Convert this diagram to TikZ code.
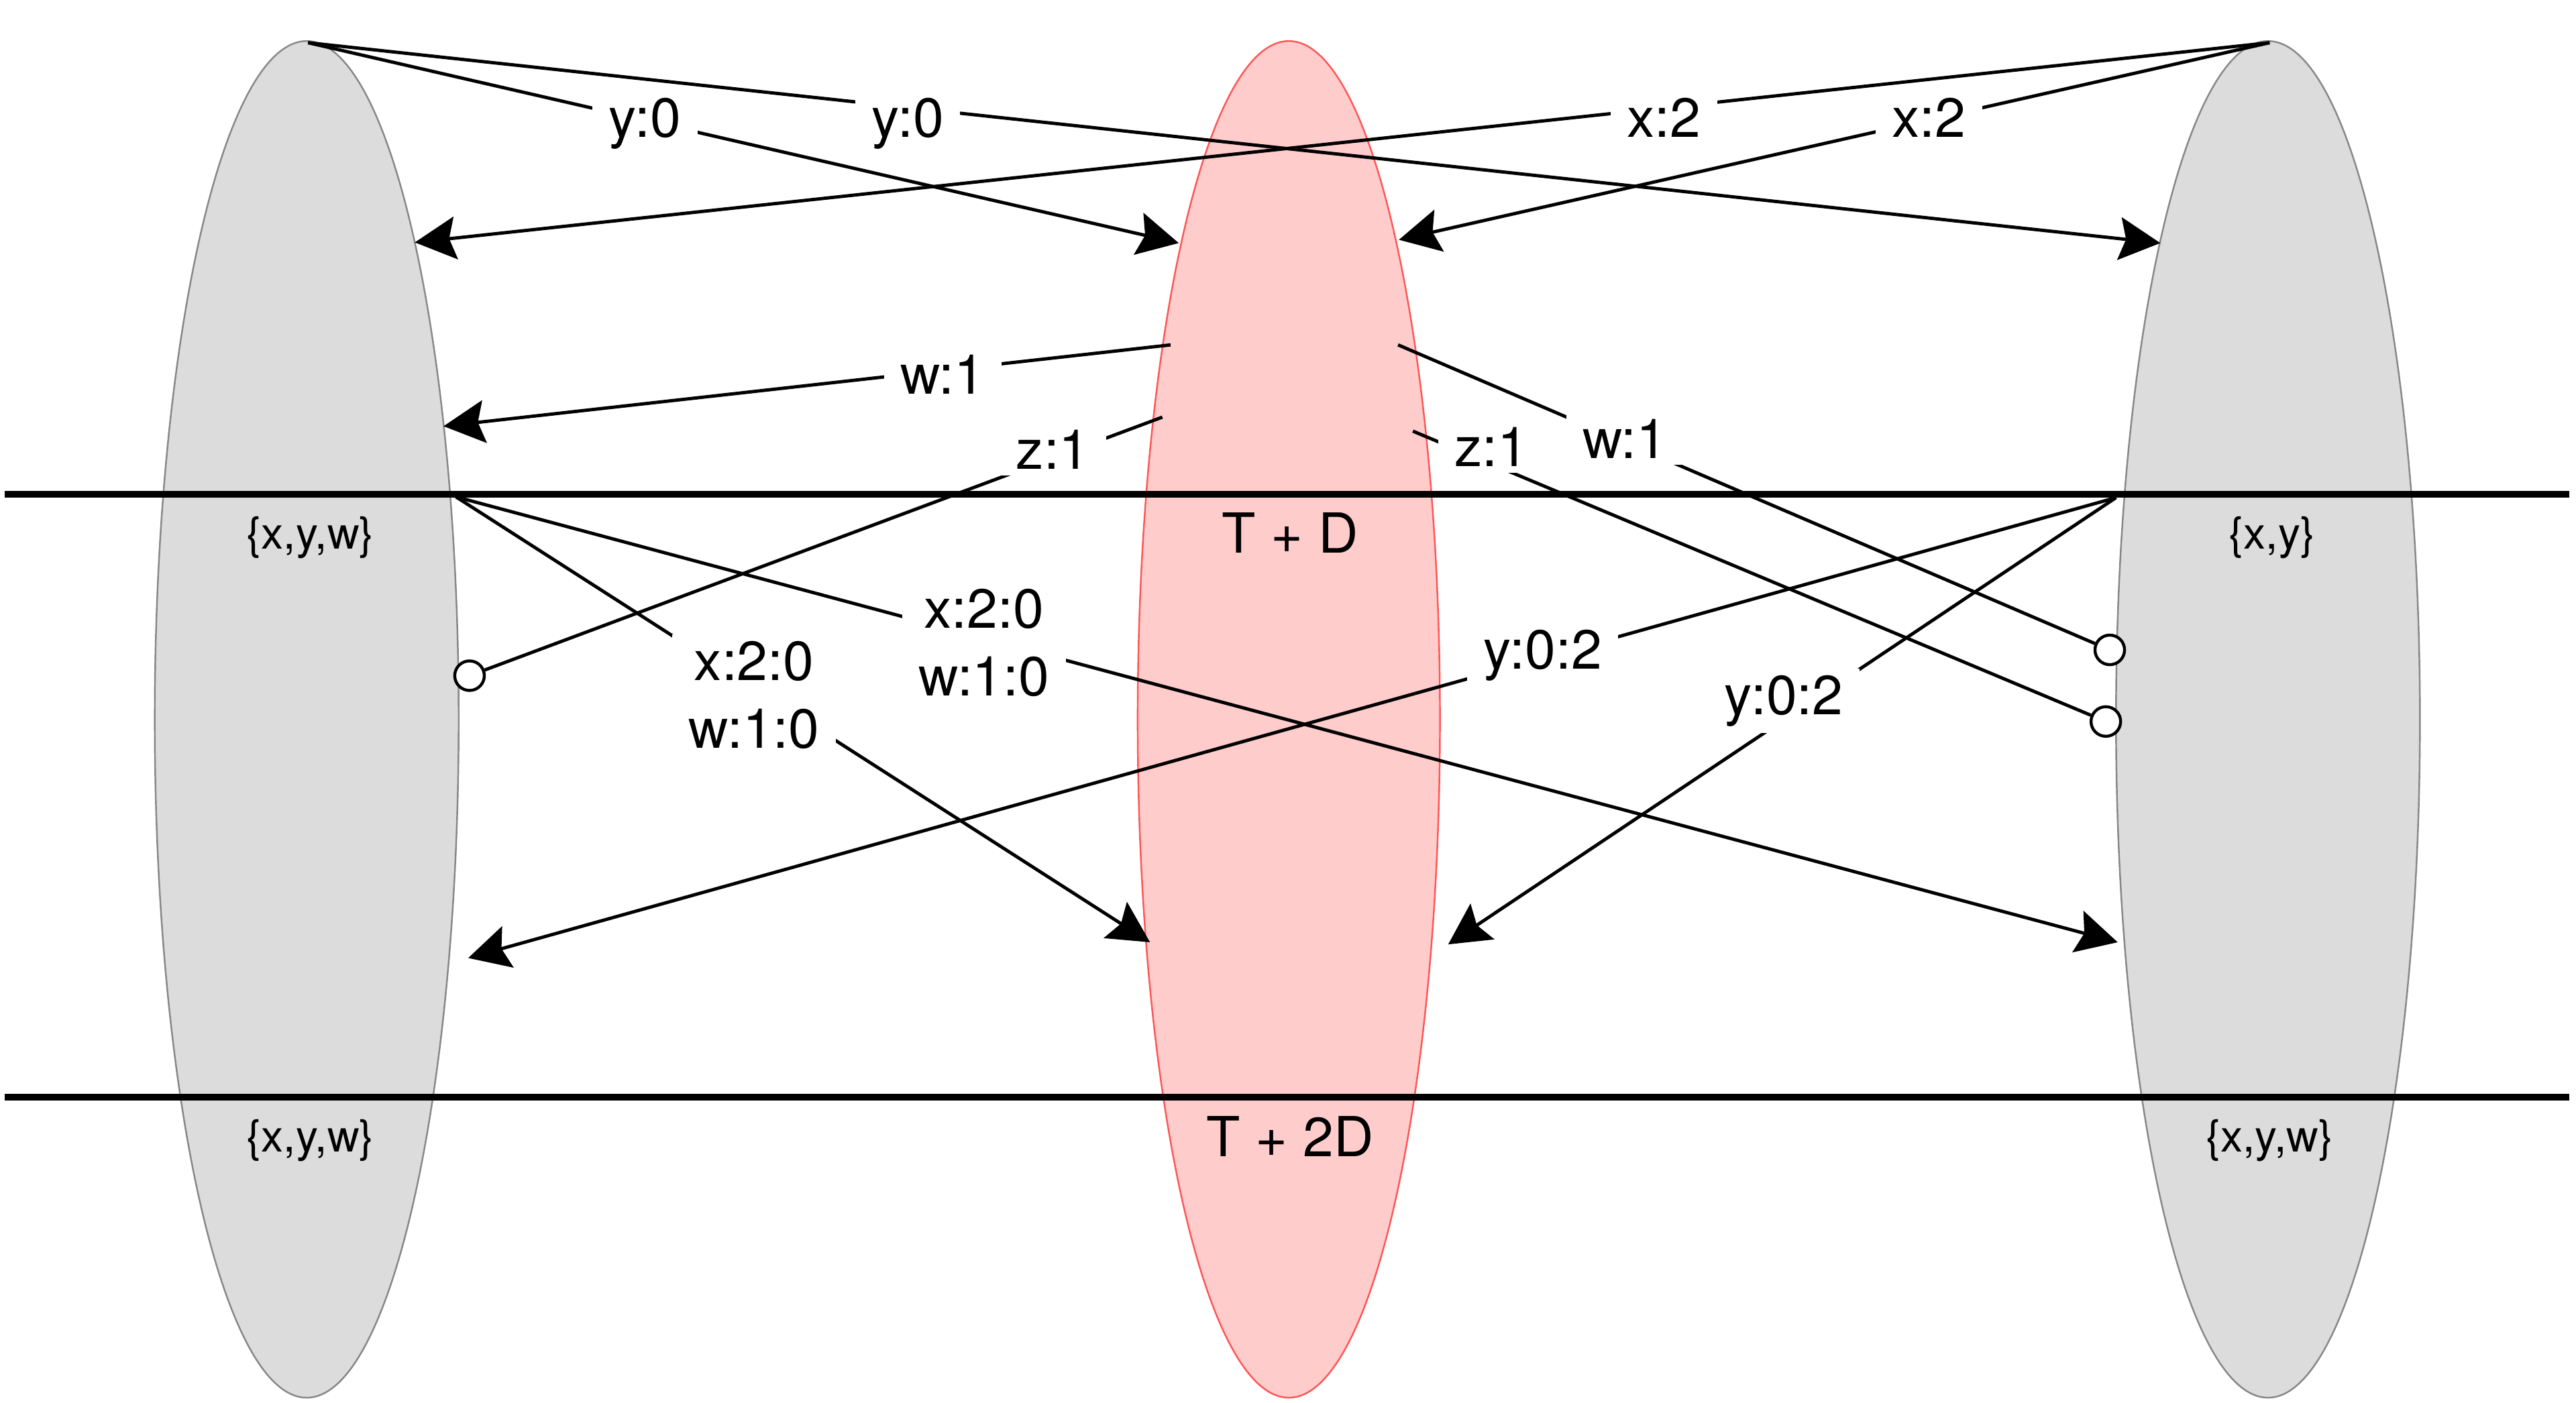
\documentclass[tikz,border=0pt]{standalone}
\usepackage{fontspec}
\setmainfont{TeX Gyre Heros}
\usetikzlibrary{shapes.geometric,arrows.meta}
\definecolor{grayfill}{RGB}{220,220,220}
\definecolor{graydraw}{RGB}{135,135,135}
\definecolor{redfill}{RGB}{255,204,204}
\definecolor{reddraw}{RGB}{255,85,85}
\begin{document}
\begin{tikzpicture}[x=0.5pt,y=-0.5pt,
  grayell/.style={ellipse, draw=graydraw, fill=grayfill, line width=0.5pt, minimum width=92.5pt, minimum height=413pt, inner sep=0pt},
  redell/.style={ellipse, draw=reddraw, fill=redfill, line width=0.5pt, minimum width=92pt, minimum height=413pt, inner sep=0pt},
  level/.style={line width=2pt},
  edge/.style={line width=1pt},
  arr/.style={edge, -{Stealth[length=12.5pt,width=13pt,inset=2pt]}},
  endcirc/.style={circle, draw, fill=white, line width=0.9pt, minimum size=9pt, inner sep=0pt},
  setlab/.style={font=\fontsize{13.5}{16}\selectfont, inner sep=0pt},
  timelab/.style={font=\fontsize{16.8}{20.5}\selectfont, inner sep=0pt},
  elab/.style={font=\fontsize{16.8}{20.5}\selectfont, fill=white, inner xsep=5pt, inner ysep=2pt, align=center, anchor=base}]
\useasboundingbox (0,0) rectangle (1568,854);
% ellipses
\node[grayell] (L) at (186.7,438) {};
\node[redell] (M) at (784.5,438) {};
\node[grayell] (R) at (1380.5,438) {};
% horizontal lines
\coordinate (h1a) at (3,301);
\coordinate (h1b) at (1564,301);
\coordinate (h2a) at (3,668);
\coordinate (h2b) at (1564,668);
\draw[level] (h1a) -- (h1b);
\draw[level] (h2a) -- (h2b);
% set labels
\node[setlab] (s1) at (189,327.4) {\{x,y,w\}};
\node[timelab] (t1) at (785.4,324.6) {T + D};
\node[setlab] (s2) at (1383,327.4) {\{x,y\}};
\node[setlab] (s3) at (189,694.5) {\{x,y,w\}};
\node[timelab] (t2) at (785.4,691.8) {T + 2D};
\node[setlab] (s4) at (1381.5,694.5) {\{x,y,w\}};
% end points
\coordinate (LT) at (187.5,26);
\coordinate (RT) at (1381.5,26);
\coordinate (tA) at (717.5,148);
\coordinate (tB) at (1315,148);
\coordinate (tC) at (252.5,147.6);
\coordinate (tD) at (851.5,146);
\coordinate (sE) at (712.5,210);
\coordinate (tE) at (270,259.5);
\coordinate (sF) at (707.5,254);
\coordinate (sG) at (851,210);
\coordinate (sH) at (860,262.5);
\coordinate (LJ) at (277.5,302.5);
\coordinate (RJ) at (1288,303);
\coordinate (tI1) at (700,573.7);
\coordinate (tI2) at (1289,573.7);
\coordinate (tJ1) at (285,583.3);
\coordinate (tJ2) at (881.5,575);
% circles
\node[endcirc] (cL) at (285.8,411.4) {};
\node[endcirc] (cR1) at (1284.2,395.7) {};
\node[endcirc] (cR2) at (1281.8,439.3) {};
% edges
\draw[arr] (LT) -- (tA);
\draw[arr] (LT) -- (tB);
\draw[arr] (RT) -- (tC);
\draw[arr] (RT) -- (tD);
\draw[arr] (sE) -- (tE);
\draw[edge] (sF) -- (cL);
\draw[edge] (sG) -- (cR1);
\draw[edge] (sH) -- (cR2);
\draw[arr] (LJ) -- (tI1);
\draw[arr] (LJ) -- (tI2);
\draw[arr] (RJ) -- (tJ1);
\draw[arr] (RJ) -- (tJ2);
% edge labels
\node[elab] (lA) at (392.5,83.4) {y:0};
\node[elab] (lB) at (552.5,83.4) {y:0};
\node[elab] (lC) at (1012.75,83.4) {x:2};
\node[elab] (lD) at (1174,83.4) {x:2};
\node[elab] (lE) at (573.75,240) {w:1};
\node[elab] (lF) at (641,285.7) {z:1};
\node[elab] (lG) at (989,278.9) {w:1};
\node[elab] (lH) at (907.75,283.8) {z:1};
\node[elab] (lI1) at (459,455.3) {x:2:0\\w:1:0};
\node[elab] (lI2) at (599,423.6) {x:2:0\\w:1:0};
\node[elab] (lJ1) at (939,407.4) {y:0:2};
\node[elab] (lJ2) at (1085.8,434.9) {y:0:2};
\end{tikzpicture}
\end{document}
